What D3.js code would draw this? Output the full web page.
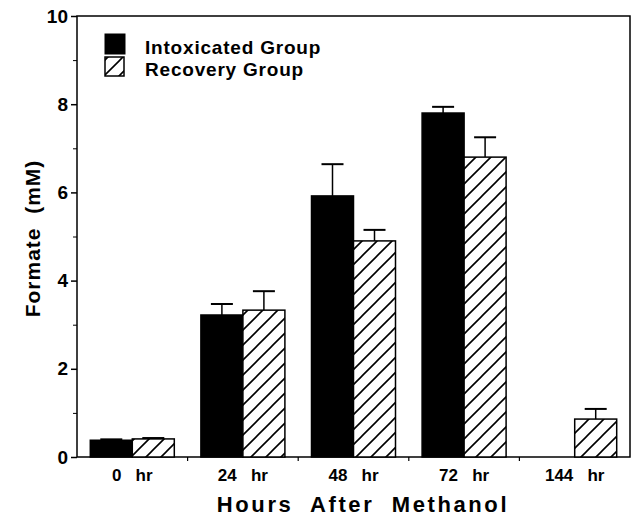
<!DOCTYPE html>
<html>
<head>
<meta charset="utf-8">
<script src="https://cdn.jsdelivr.net/npm/d3@7"></script>
<style>
  body { margin: 0; background: #fff; }
  text { font-family: "Liberation Sans", Arial, sans-serif; font-weight: bold; fill: #000; }
</style>
</head>
<body>
<svg width="635" height="521"></svg>
<script>
var categories = ["0   hr", "24   hr", "48   hr", "72   hr", "144   hr"];
var intoxicated = [0.38, 3.22, 5.92, 7.8, null];
var intoxicatedErr = [0.02, 0.25, 0.72, 0.14, null];
var recovery = [0.41, 3.33, 4.9, 6.8, 0.86];
var recoveryErr = [0.02, 0.43, 0.25, 0.45, 0.23];
var yTicks = [0, 2, 4, 6, 8, 10];
var yMinor = [1, 3, 5, 7, 9];

var svg = d3.select("svg");
var margin = {left: 77, right: 5, top: 16, bottom: 64};
var width = 635 - margin.left - margin.right,
    height = 521 - margin.top - margin.bottom;

var defs = svg.append("defs");
var pat = defs.append("pattern")
  .attr("id", "hatch")
  .attr("patternUnits", "userSpaceOnUse")
  .attr("width", 15)
  .attr("height", 15);
pat.append("rect").attr("width", 15).attr("height", 15).attr("fill", "#fff");
pat.append("path")
  .attr("d", "M-2,17 L17,-2 M-4,4 L4,-4 M11,19 L19,11")
  .attr("stroke", "#000")
  .attr("stroke-width", 1.6);

var g = svg.append("g")
  .attr("transform", "translate(" + margin.left + "," + margin.top + ")");

var x = d3.scaleBand().domain(categories).range([0, width]).paddingInner(0).paddingOuter(0);
var y = d3.scaleLinear().domain([0, 10]).range([height, 0]);
var barW = 42;

// frame
g.append("rect")
  .attr("width", width).attr("height", height)
  .attr("fill", "none").attr("stroke", "#000").attr("stroke-width", 1.5);

// y axis
var yAxis = g.append("g")
  .call(d3.axisLeft(y).tickValues(yTicks).tickSize(6).tickFormat(d3.format("d")));
yAxis.select(".domain").remove();
yAxis.selectAll("line").attr("stroke-width", 1.5);
yAxis.selectAll("text").style("font-size", "19px").attr("x", -9);

var yMin = g.append("g")
  .call(d3.axisLeft(y).tickValues(yMinor).tickSize(4).tickFormat(""));
yMin.select(".domain").remove();

// x axis
var xAxis = g.append("g")
  .attr("transform", "translate(0," + height + ")")
  .call(d3.axisBottom(x).tickSize(0));
xAxis.select(".domain").remove();
xAxis.selectAll("text")
  .style("font-size", "17px")
  .attr("xml:space", "preserve")
  .attr("dy", "1.25em");

// boundary ticks on x axis
g.append("g").selectAll("line")
  .data(categories.slice(1))
  .enter().append("line")
  .attr("x1", function(d) { return x(d); })
  .attr("x2", function(d) { return x(d); })
  .attr("y1", height)
  .attr("y2", height + 4)
  .attr("stroke", "#000")
  .attr("stroke-width", 1.2);

function drawSeries(vals, errs, offset, fill) {
  var data = categories.map(function(c, i) {
    return {c: c, v: vals[i], e: errs[i]};
  }).filter(function(d) { return d.v != null; });

  var grp = g.append("g");
  grp.selectAll("rect")
    .data(data)
    .enter().append("rect")
    .attr("x", function(d) { return x(d.c) + x.bandwidth() / 2 + offset; })
    .attr("y", function(d) { return y(d.v); })
    .attr("width", barW)
    .attr("height", function(d) { return height - y(d.v); })
    .attr("fill", fill)
    .attr("stroke", "#000")
    .attr("stroke-width", 1.5);

  var cx = function(d) { return x(d.c) + x.bandwidth() / 2 + offset + barW / 2; };
  grp.selectAll("line.err")
    .data(data)
    .enter().append("line")
    .attr("class", "err")
    .attr("x1", cx).attr("x2", cx)
    .attr("y1", function(d) { return y(d.v); })
    .attr("y2", function(d) { return y(d.v + d.e); })
    .attr("stroke", "#000").attr("stroke-width", 1.5);
  grp.selectAll("line.cap")
    .data(data)
    .enter().append("line")
    .attr("class", "cap")
    .attr("x1", function(d) { return cx(d) - 11; })
    .attr("x2", function(d) { return cx(d) + 11; })
    .attr("y1", function(d) { return y(d.v + d.e); })
    .attr("y2", function(d) { return y(d.v + d.e); })
    .attr("stroke", "#000").attr("stroke-width", 2);
}

drawSeries(intoxicated, intoxicatedErr, -barW, "#000");
drawSeries(recovery, recoveryErr, 0, "url(#hatch)");

// legend
var legend = svg.append("g");
legend.append("rect").attr("x", 105).attr("y", 34).attr("width", 20).attr("height", 20)
  .attr("fill", "#000").attr("stroke", "#000");
legend.append("rect").attr("x", 105).attr("y", 57).attr("width", 19).attr("height", 19)
  .attr("fill", "url(#hatch)").attr("stroke", "#000").attr("stroke-width", 1.5);
legend.append("text").attr("x", 145).attr("y", 54).style("font-size", "19px")
  .style("letter-spacing", "0.8px").text("Intoxicated Group");
legend.append("text").attr("x", 145).attr("y", 76).style("font-size", "19px")
  .style("letter-spacing", "0.8px").text("Recovery Group");

// axis titles
svg.append("text")
  .attr("transform", "translate(40," + (margin.top + height / 2 + 2) + ") rotate(-90)")
  .attr("text-anchor", "middle")
  .style("font-size", "21px")
  .style("letter-spacing", "1px")
  .attr("xml:space", "preserve")
  .text("Formate  (mM)");

svg.append("text")
  .attr("x", 363)
  .attr("y", 512)
  .attr("text-anchor", "middle")
  .style("font-size", "22px")
  .style("letter-spacing", "2.6px")
  .attr("xml:space", "preserve")
  .text("Hours  After  Methanol");
</script>
</body>
</html>
